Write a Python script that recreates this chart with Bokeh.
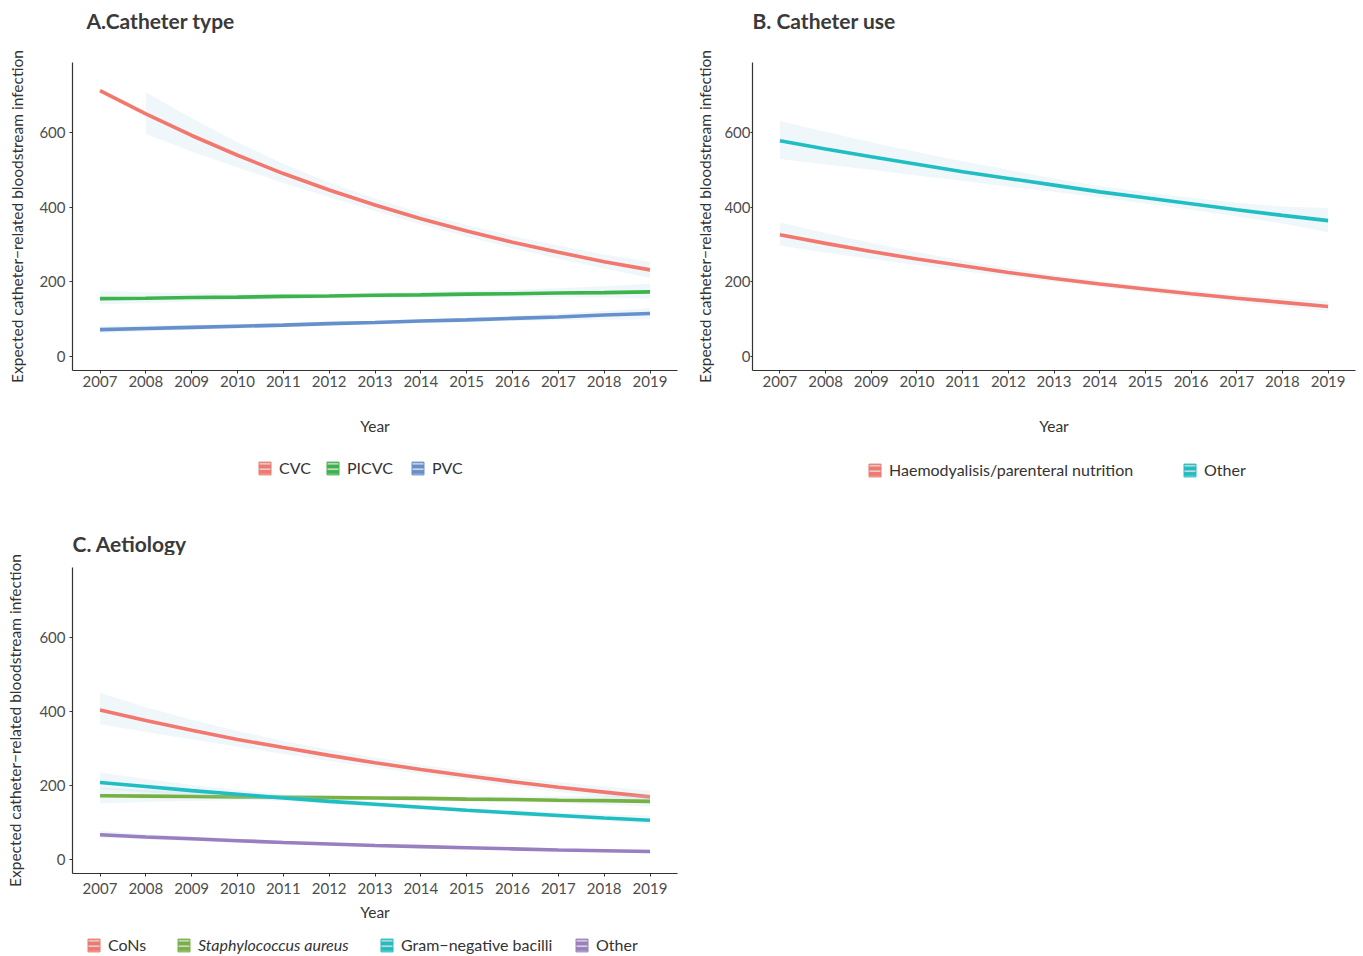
from bokeh.plotting import figure
from bokeh.models import Range1d, FixedTicker, Legend, LegendItem, Label
from bokeh.layouts import column, row
from bokeh.embed import file_html
from bokeh.resources import INLINE

years = [2007, 2008, 2009, 2010, 2011, 2012, 2013, 2014, 2015, 2016, 2017, 2018, 2019]
y_ticks = [0, 200, 400, 600]
y_label = "Expected catheter\u2212related bloodstream infection"

# ---- Panel A: catheter type ----
a_names = ["CVC", "PICVC", "PVC"]
cvc_fit = [712, 650, 592, 539, 490, 446, 406, 369, 336, 306, 279, 254, 232]
cvc_lo = [None, 596, 549, 506, 465, 427, 390, 354, 321, 290, 262, 236, 210]
cvc_hi = [None, 708, 638, 574, 516, 466, 423, 385, 352, 323, 297, 273, 254]
picvc_fit = [155, 156, 158, 159, 161, 162, 164, 165, 167, 168, 170, 171, 173]
picvc_lo = [139, 143, 147, 151, 154, 156, 157, 158, 159, 159, 159, 158, 155]
picvc_hi = [176, 172, 170, 169, 168, 169, 170, 173, 176, 179, 183, 188, 195]
pvc_fit = [72, 75, 78, 81, 84, 88, 91, 95, 98, 102, 106, 111, 115]
pvc_lo = [63, 67, 71, 75, 79, 83, 86, 90, 92, 95, 97, 99, 100]
pvc_hi = [81, 83, 85, 87, 90, 93, 96, 100, 104, 109, 115, 122, 130]

# ---- Panel B: catheter use ----
b_names = ["Haemodyalisis/parenteral nutrition", "Other"]
haemo_fit = [326, 303, 281, 261, 243, 225, 209, 194, 181, 168, 156, 145, 134]
haemo_lo = [297, 278, 261, 245, 229, 214, 200, 186, 172, 159, 146, 134, 121]
haemo_hi = [359, 331, 304, 280, 257, 237, 219, 203, 189, 177, 166, 156, 148]
otheruse_fit = [578, 556, 535, 515, 495, 477, 459, 441, 425, 409, 393, 378, 364]
otheruse_lo = [529, 514, 500, 485, 470, 455, 441, 426, 410, 393, 375, 356, 333]
otheruse_hi = [631, 602, 574, 548, 523, 500, 477, 457, 440, 425, 412, 402, 398]

# ---- Panel C: aetiology ----
c_names = ["CoNs", "Staphylococcus aureus", "Gram\u2212negative bacilli", "Other"]
cons_fit = [403, 375, 349, 324, 302, 281, 261, 243, 226, 210, 195, 182, 169]
cons_lo = [365, 344, 324, 304, 285, 266, 248, 231, 214, 198, 183, 169, 155]
cons_hi = [450, 411, 377, 347, 320, 296, 275, 256, 239, 223, 209, 197, 186]
saur_fit = [172, 171, 170, 169, 168, 167, 166, 165, 163, 162, 160, 159, 157]
saur_lo = [151, 155, 158, 160, 161, 161, 160, 159, 157, 155, 152, 148, 143]
saur_hi = [194, 188, 183, 179, 175, 173, 172, 171, 170, 170, 171, 173, 175]
gneg_fit = [208, 197, 186, 176, 166, 157, 149, 141, 133, 126, 119, 112, 106]
gneg_lo = [190, 181, 173, 165, 157, 150, 142, 135, 127, 119, 112, 104, 96]
gneg_hi = [235, 217, 201, 188, 176, 165, 156, 147, 139, 133, 127, 122, 118]
oth_fit = [67, 61, 56, 51, 46, 42, 38, 35, 32, 29, 26, 24, 22]
oth_lo = [58, 54, 50, 46, 42, 39, 35, 32, 29, 26, 23, 20, 17]
oth_hi = [77, 69, 62, 56, 51, 46, 41, 38, 35, 32, 30, 28, 27]

RED = "#f3776c"
GREEN = "#3cb44b"
BLUE = "#6690cc"
TEAL = "#1fbec2"
GREEN2 = "#77b043"
PURPLE = "#9a7fc0"
BAND = "#add8e6"
FONT = "Lato"


def base_fig(width, height, mbl, mbr, mbt, mbb, ytick_out, ylab_standoff,
             yaxis_label_standoff, xlab_standoff, xaxis_label_standoff):
    p = figure(width=width, height=height, output_backend="svg", toolbar_location=None,
               x_range=Range1d(2006.4, 2019.6), y_range=Range1d(-37.5, 787.5),
               min_border_left=mbl, min_border_right=mbr, min_border_top=mbt,
               min_border_bottom=mbb)
    p.title.text = ""
    p.title.text_font_size = "1px"
    p.title.standoff = 0
    p.xgrid.visible = False
    p.ygrid.visible = False
    p.outline_line_color = None
    p.xaxis.ticker = FixedTicker(ticks=years)
    p.yaxis.ticker = FixedTicker(ticks=y_ticks)
    for ax in (p.xaxis[0], p.yaxis[0]):
        ax.axis_line_color = "#333333"
        ax.axis_line_width = 1.2
        ax.major_tick_line_color = "#333333"
        ax.major_tick_in = 0
        ax.minor_tick_line_color = None
        ax.major_label_text_font = FONT
        ax.major_label_text_font_size = "15px"
        ax.major_label_text_color = "#4d4d4d"
        ax.axis_label_text_font = FONT
        ax.axis_label_text_font_size = "15.5px"
        ax.axis_label_text_font_style = "normal"
        ax.axis_label_text_color = "#333333"
    p.xaxis.major_tick_out = 3
    p.yaxis.major_tick_out = ytick_out
    p.yaxis.major_label_standoff = ylab_standoff
    p.yaxis.axis_label = y_label
    p.yaxis.axis_label_standoff = yaxis_label_standoff
    p.xaxis.axis_label = "Year"
    p.xaxis.major_label_standoff = xlab_standoff
    p.xaxis.axis_label_standoff = xaxis_label_standoff
    return p


def add_series(p, fit, lo, hi, color):
    xs = [x for x, l in zip(years, lo) if l is not None]
    los = [l for l in lo if l is not None]
    his = [h for h in hi if h is not None]
    p.varea(x=xs, y1=los, y2=his, fill_color=BAND, fill_alpha=0.2)
    p.line(x=years, y=fit, line_color=color, line_width=3.6)


def strip_fig(width, height):
    f = figure(width=width, height=height, output_backend="svg", toolbar_location=None,
               x_range=Range1d(0, 1), y_range=Range1d(0, 1), x_axis_type=None,
               y_axis_type=None, min_border=0)
    f.grid.visible = False
    f.outline_line_color = None
    return f


def add_title(f, text, x, y):
    f.add_layout(Label(x=x, y=y, x_units="screen", y_units="screen", text=text,
                       text_font=FONT, text_font_size="21px", text_font_style="bold",
                       text_color="#3a3a3a", text_baseline="middle", text_align="left"))


def key_renderer(f, color):
    # legend-key glyph kept outside the visible range of the legend strip
    return f.quad(left=[-10], right=[-9], top=[1], bottom=[0], fill_color=color,
                  line_color=color, line_width=1, hatch_pattern="-",
                  hatch_color="#d8d8d8", hatch_scale=5.5, hatch_weight=1.6)


def add_key(f, name, color, loc, italic=False):
    leg = Legend(items=[LegendItem(label=name, renderers=[key_renderer(f, color)])],
                 location=loc, orientation="horizontal")
    leg.border_line_color = None
    leg.background_fill_alpha = 0
    leg.glyph_width = 15
    leg.glyph_height = 16
    leg.label_height = 16
    leg.label_standoff = 7
    leg.label_text_font = FONT
    leg.label_text_font_size = "16px"
    leg.label_text_color = "#333333"
    leg.label_text_font_style = "italic" if italic else "normal"
    leg.padding = 1
    leg.margin = 0
    f.add_layout(leg, "center")


W_A, W_B = 690, 672

# Panel A
tA = strip_fig(W_A, 50)
add_title(tA, "A.Catheter type", 14, 30)
pA = base_fig(W_A, 406, 72, 13, 12, 86, 3, 4, 10, 2, 27)
add_series(pA, cvc_fit, cvc_lo, cvc_hi, RED)
add_series(pA, picvc_fit, picvc_lo, picvc_hi, GREEN)
add_series(pA, pvc_fit, pvc_lo, pvc_hi, BLUE)
lA = strip_fig(W_A, 44)
for n, c, off in zip(a_names, [RED, GREEN, BLUE], [185, 253, 338]):
    add_key(lA, n, c, (off, 23))

# Panel B
tB = strip_fig(W_B, 50)
add_title(tB, "B. Catheter use", 0, 30)
pB = base_fig(W_B, 406, 62, 7, 12, 86, 2, 0, 7, 2, 27)
add_series(pB, haemo_fit, haemo_lo, haemo_hi, RED)
add_series(pB, otheruse_fit, otheruse_lo, otheruse_hi, TEAL)
lB = strip_fig(W_B, 44)
for n, c, off in zip(b_names, [RED, TEAL], [115, 430]):
    add_key(lB, n, c, (off, 21))

# Panel C
tC = strip_fig(W_A, 55)
add_title(tC, "C. Aetiology", 0, 12)
pC = base_fig(W_A, 374, 72, 13, 12, 56, 3, 4, 12, 6, 6)
add_series(pC, cons_fit, cons_lo, cons_hi, RED)
add_series(pC, saur_fit, saur_lo, saur_hi, GREEN2)
add_series(pC, gneg_fit, gneg_lo, gneg_hi, TEAL)
add_series(pC, oth_fit, oth_lo, oth_hi, PURPLE)
lC = strip_fig(W_A, 26)
for n, c, off in zip(c_names, [RED, GREEN2, TEAL, PURPLE], [14, 104, 307, 502]):
    add_key(lC, n, c, (off, 1), italic=n.startswith("Staph"))

layout = column(row(column(tA, pA, lA), column(tB, pB, lB)), column(tC, pC, lC))
open("out.html", "w").write(file_html(layout, INLINE))
